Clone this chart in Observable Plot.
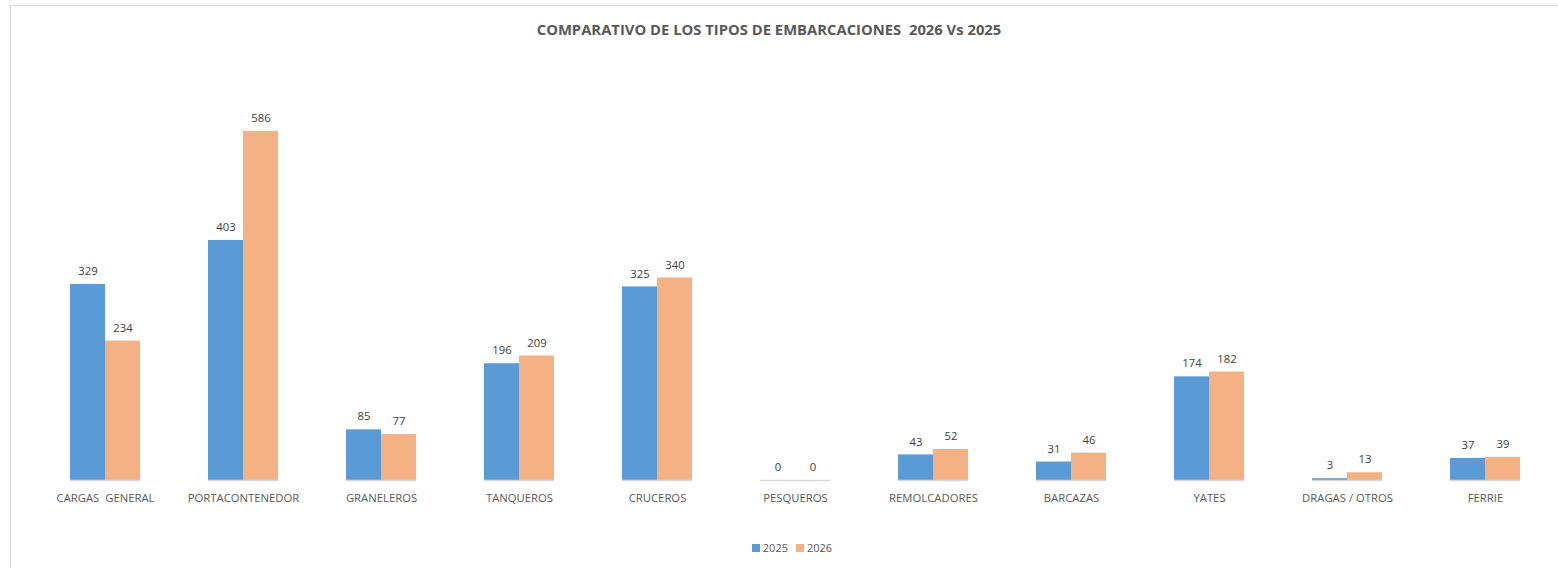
<!DOCTYPE html>
<html>
<head>
<meta charset="utf-8">
<script src="https://cdn.jsdelivr.net/npm/d3@7"></script>
<script src="https://cdn.jsdelivr.net/npm/@observablehq/plot@0.6"></script>
<style>
  html, body { margin: 0; padding: 0; background: #fff; width: 1558px; height: 568px; overflow: hidden; }
  #frame { position: absolute; left: 10px; top: 5px; width: 1600px; height: 600px; border: 1px solid #d9d9d9; box-sizing: border-box; }
  #title { position: absolute; left: 0; top: 19px; width: 1538px; text-align: center; font-family: "Open Sans", sans-serif; font-weight: bold; font-size: 14.8px; color: #595959; white-space: pre; }
  #chart { position: absolute; left: 0; top: 50px; }
  #legend { position: absolute; left: 0; top: 540px; width: 1584px; text-align: center; font-family: "Open Sans", sans-serif; font-size: 11px; color: #595959; }
  #legend span.sw { display: inline-block; width: 8px; height: 8px; margin-right: 3px; vertical-align: 0px; }
  #legend span.item { margin: 0 4px; }
</style>
</head>
<body>
<div id="frame"></div>
<div id="title">COMPARATIVO DE LOS TIPOS DE EMBARCACIONES  2026 Vs 2025</div>
<div id="chart"></div>
<div id="legend"></div>
<script>
const categories = ["CARGAS  GENERAL", "PORTACONTENEDOR", "GRANELEROS", "TANQUEROS", "CRUCEROS", "PESQUEROS", "REMOLCADORES", "BARCAZAS", "YATES", "DRAGAS / OTROS", "FERRIE"];
const series = ["2025", "2026"];
const values2025 = [329, 403, 85, 196, 325, 0, 43, 31, 174, 3, 37];
const values2026 = [234, 586, 77, 209, 340, 0, 52, 46, 182, 13, 39];
const colors = ["#5B9BD5", "#F4B183"];

const data = [];
categories.forEach((c, i) => {
  data.push({cat: c, year: series[0], value: values2025[i]});
  data.push({cat: c, year: series[1], value: values2026[i]});
});

const chart = Plot.plot({
  width: 1558,
  height: 470,
  marginLeft: 35,
  marginRight: 2,
  marginTop: 13,
  marginBottom: 40,
  style: {fontFamily: "'Open Sans', sans-serif", fontSize: "11px", color: "#595959", background: "transparent"},
  fx: {domain: categories, paddingInner: 0.49, paddingOuter: 0.245, label: null, axis: null},
  x: {domain: series, padding: 0, axis: null},
  y: {domain: [0, 700], axis: null},
  color: {domain: series, range: colors},
  marks: [
    Plot.barY(data, {fx: "cat", x: "year", y: "value", fill: "year"}),
    Plot.text(data, {fx: "cat", x: "year", y: "value", text: d => String(d.value), dy: -13, fill: "#404040", fontSize: 11.3}),
    Plot.ruleY([0], {stroke: "#d9d9d9", strokeWidth: 1.5}),
    Plot.axisFx({domain: categories, anchor: "bottom", tickSize: 0, tickPadding: 13, label: null, fontSize: 11.3, fill: "#595959"})
  ]
});
document.getElementById("chart").appendChild(chart);

const legend = document.getElementById("legend");
series.forEach((s, i) => {
  const item = document.createElement("span");
  item.className = "item";
  item.innerHTML = `<span class="sw" style="background:${colors[i]}"></span>${s}`;
  legend.appendChild(item);
});
</script>
</body>
</html>
